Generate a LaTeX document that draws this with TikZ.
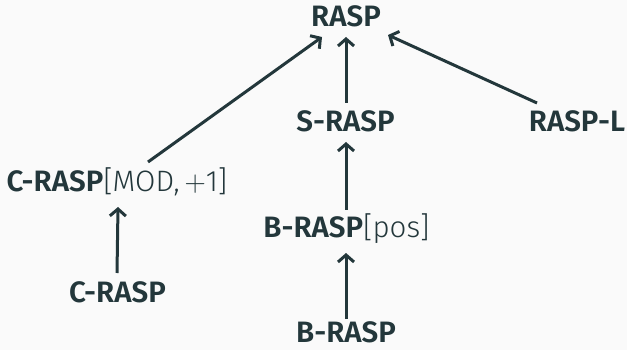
\documentclass[tikz,border=0pt]{standalone}
\usepackage{fix-cm}
\usepackage{fontspec}
\setmainfont{Fira Sans}[UprightFont=* Light, BoldFont=* SemiBold]
\usetikzlibrary{arrows.meta}
\definecolor{mDark}{HTML}{23373B}
\definecolor{mBg}{HTML}{FAFAFA}
\begin{document}
\begin{tikzpicture}[x=1pt,y=-1pt,
  lang/.style={anchor=base,inner sep=0pt,text=mDark,font=\fontsize{29.5}{34}\selectfont},
  edge/.style={draw=mDark,line width=3pt,-{Straight Barb[length=7pt,width=16pt]}}]
\fill[mBg] (0,0) rectangle (627,350);
\useasboundingbox (0,0) rectangle (627,350);
\node[lang] (rasp) at (346,27) {\textbf{RASP}};
\node[lang] (srasp) at (345.5,132) {\textbf{S-RASP}};
\node[lang] (raspl) at (577,132) {\textbf{RASP-L}};
\node[lang] (cmod) at (117,192) {\textbf{C-RASP}[MOD,\,$+$1]};
\node[lang] (crasp) at (117.5,302) {\textbf{C-RASP}};
\node[lang] (bpos) at (346.5,237) {\textbf{B-RASP}[pos]};
\node[lang] (brasp) at (346,342) {\textbf{B-RASP}};
\draw[edge] ([xshift=31pt,yshift=30pt]cmod.base) -- ([xshift=-24pt,yshift=-10pt]rasp.base);
\draw[edge] ([xshift=0.5pt,yshift=29pt]srasp.base) -- ([yshift=-10pt]rasp.base);
\draw[edge] ([xshift=-40pt,yshift=29pt]raspl.base) -- ([xshift=42pt,yshift=-8pt]rasp.base);
\draw[edge] ([xshift=-0.5pt,yshift=27pt]bpos.base) -- ([xshift=0.5pt,yshift=-10pt]srasp.base);
\draw[edge] ([yshift=23pt]brasp.base) -- ([xshift=-0.5pt,yshift=-16pt]bpos.base);
\draw[edge] ([xshift=-0.5pt,yshift=29pt]crasp.base) -- ([xshift=1pt,yshift=-15pt]cmod.base);
\end{tikzpicture}
\end{document}
